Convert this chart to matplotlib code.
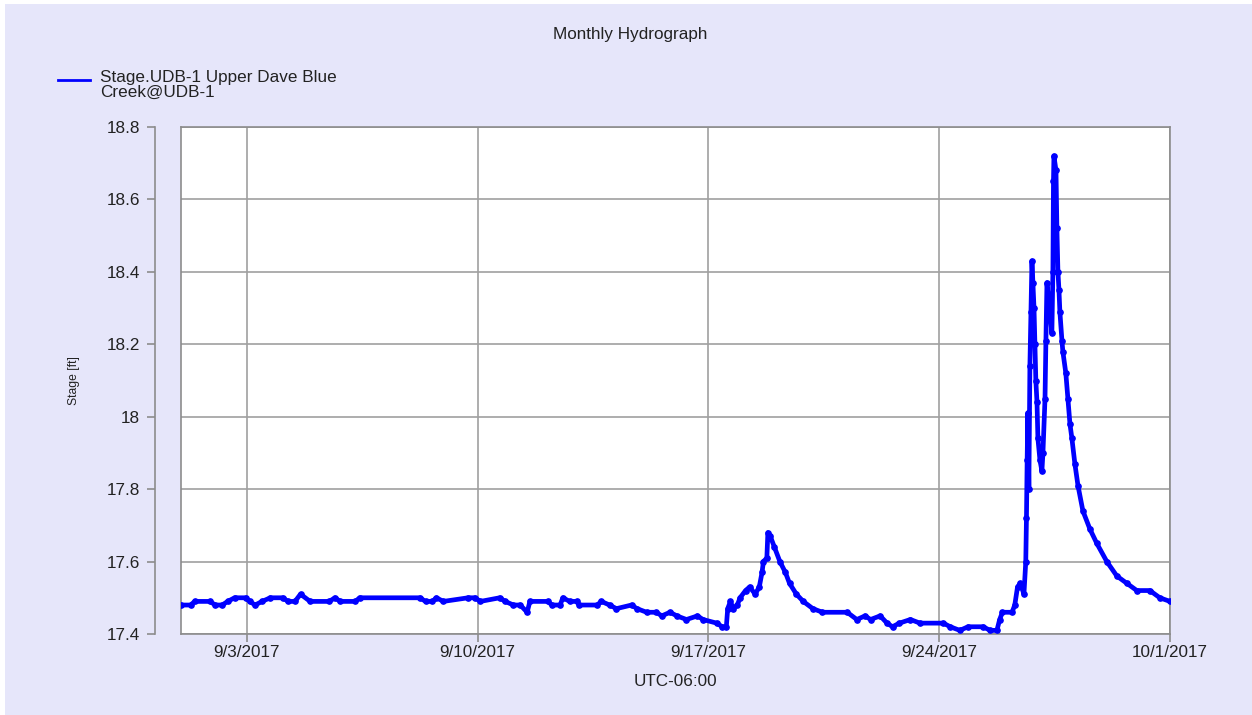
import pandas as pd
import matplotlib.pyplot as plt
from matplotlib.lines import Line2D
from matplotlib.patches import Rectangle

plt.rcParams['font.family'] = ['Liberation Sans', 'DejaVu Sans']

# Stage readings (ft)
times = [
    "2017-09-01 00:00", "2017-09-01 07:00", "2017-09-01 10:00", "2017-09-01 21:00",
    "2017-09-02 01:00", "2017-09-02 06:00", "2017-09-02 10:00", "2017-09-02 15:00",
    "2017-09-02 23:00", "2017-09-03 02:00", "2017-09-03 06:00", "2017-09-03 11:00",
    "2017-09-03 17:00", "2017-09-04 02:00", "2017-09-04 06:00", "2017-09-04 11:00",
    "2017-09-04 15:00", "2017-09-04 22:00", "2017-09-05 12:00", "2017-09-05 16:00",
    "2017-09-05 20:00", "2017-09-06 07:00", "2017-09-06 10:00", "2017-09-08 06:00",
    "2017-09-08 10:00", "2017-09-08 15:00", "2017-09-08 18:00", "2017-09-08 23:00",
    "2017-09-09 17:00", "2017-09-09 22:00", "2017-09-10 02:00", "2017-09-10 16:00",
    "2017-09-10 20:00", "2017-09-11 02:00", "2017-09-11 07:00", "2017-09-11 12:00",
    "2017-09-11 14:00", "2017-09-12 03:00", "2017-09-12 06:00", "2017-09-12 12:00",
    "2017-09-12 14:00", "2017-09-12 19:00", "2017-09-13 00:00", "2017-09-13 02:00",
    "2017-09-13 15:00", "2017-09-13 18:00", "2017-09-14 00:00", "2017-09-14 05:00",
    "2017-09-14 16:00", "2017-09-14 20:00", "2017-09-15 03:00", "2017-09-15 10:00",
    "2017-09-15 14:00", "2017-09-15 20:00", "2017-09-16 01:00", "2017-09-16 08:00",
    "2017-09-16 16:00", "2017-09-16 20:00", "2017-09-17 06:00", "2017-09-17 10:00",
    "2017-09-17 13:00", "2017-09-17 14:00", "2017-09-17 16:00", "2017-09-17 18:00",
    "2017-09-17 21:00", "2017-09-17 23:00", "2017-09-18 03:00", "2017-09-18 06:00",
    "2017-09-18 10:00", "2017-09-18 13:00", "2017-09-18 15:00", "2017-09-18 16:00",
    "2017-09-18 18:30", "2017-09-18 19:15", "2017-09-18 21:00", "2017-09-19 00:00",
    "2017-09-19 04:00", "2017-09-19 08:00", "2017-09-19 11:00", "2017-09-19 16:00",
    "2017-09-19 21:00", "2017-09-20 04:00", "2017-09-20 11:00", "2017-09-21 05:00",
    "2017-09-21 12:00", "2017-09-21 18:00", "2017-09-21 22:00", "2017-09-22 05:00",
    "2017-09-22 10:00", "2017-09-22 14:00", "2017-09-22 19:00", "2017-09-23 03:00",
    "2017-09-23 10:00", "2017-09-24 03:00", "2017-09-24 08:00", "2017-09-24 15:00",
    "2017-09-24 21:00", "2017-09-25 08:00", "2017-09-25 13:00", "2017-09-25 18:00",
    "2017-09-25 20:00", "2017-09-25 22:00", "2017-09-26 05:00", "2017-09-26 07:00",
    "2017-09-26 09:00", "2017-09-26 11:00", "2017-09-26 13:40", "2017-09-26 15:00",
    "2017-09-26 15:30", "2017-09-26 16:00", "2017-09-26 16:30", "2017-09-26 17:15",
    "2017-09-26 18:00", "2017-09-26 18:45", "2017-09-26 19:30", "2017-09-26 20:10",
    "2017-09-26 21:00", "2017-09-26 21:40", "2017-09-26 22:20", "2017-09-26 23:10",
    "2017-09-26 23:50", "2017-09-27 01:20", "2017-09-27 02:45", "2017-09-27 03:30",
    "2017-09-27 05:00", "2017-09-27 05:40", "2017-09-27 06:25", "2017-09-27 07:10",
    "2017-09-27 08:35", "2017-09-27 10:00", "2017-09-27 10:45", "2017-09-27 11:10",
    "2017-09-27 11:30", "2017-09-27 13:00", "2017-09-27 13:40", "2017-09-27 14:25",
    "2017-09-27 15:10", "2017-09-27 15:50", "2017-09-27 17:20", "2017-09-27 18:00",
    "2017-09-27 20:10", "2017-09-27 21:40", "2017-09-27 23:10", "2017-09-28 00:35",
    "2017-09-28 02:45", "2017-09-28 05:00", "2017-09-28 08:35", "2017-09-28 13:40",
    "2017-09-28 18:45", "2017-09-29 02:00", "2017-09-29 09:20", "2017-09-29 16:35",
    "2017-09-29 23:50", "2017-09-30 09:20", "2017-09-30 16:35", "2017-10-01 00:00",
]
stage = [
    17.48, 17.48, 17.49, 17.49,
    17.48, 17.48, 17.49, 17.50,
    17.50, 17.49, 17.48, 17.49,
    17.50, 17.50, 17.49, 17.49,
    17.51, 17.49, 17.49, 17.50,
    17.49, 17.49, 17.50, 17.50,
    17.49, 17.49, 17.50, 17.49,
    17.50, 17.50, 17.49, 17.50,
    17.49, 17.48, 17.48, 17.46,
    17.49, 17.49, 17.48, 17.48,
    17.50, 17.49, 17.49, 17.48,
    17.48, 17.49, 17.48, 17.47,
    17.48, 17.47, 17.46, 17.46,
    17.45, 17.46, 17.45, 17.44,
    17.45, 17.44, 17.43, 17.42,
    17.42, 17.47, 17.49, 17.47,
    17.48, 17.50, 17.52, 17.53,
    17.51, 17.53, 17.57, 17.60,
    17.61, 17.68, 17.67, 17.64,
    17.60, 17.57, 17.54, 17.51,
    17.49, 17.47, 17.46, 17.46,
    17.44, 17.45, 17.44, 17.45,
    17.43, 17.42, 17.43, 17.44,
    17.43, 17.43, 17.42, 17.41,
    17.42, 17.42, 17.41, 17.41,
    17.44, 17.46, 17.46, 17.48,
    17.53, 17.54, 17.51, 17.60,
    17.72, 17.88, 18.01, 17.80,
    18.14, 18.29, 18.43, 18.37,
    18.30, 18.20, 18.10, 18.04,
    17.94, 17.88, 17.85, 17.90,
    18.05, 18.21, 18.37, 18.34,
    18.29, 18.23, 18.40, 18.65,
    18.72, 18.68, 18.52, 18.40,
    18.35, 18.29, 18.21, 18.18,
    18.12, 18.05, 17.98, 17.94,
    17.87, 17.81, 17.74, 17.69,
    17.65, 17.60, 17.56, 17.54,
    17.52, 17.52, 17.50, 17.49,
]
tick_dates = ["2017-09-03", "2017-09-10", "2017-09-17", "2017-09-24", "2017-10-01"]
y_ticks = [17.4, 17.6, 17.8, 18.0, 18.2, 18.4, 18.6, 18.8]
y_labels = ["17.4", "17.6", "17.8", "18", "18.2", "18.4", "18.6", "18.8"]

t = pd.to_datetime(times)
bg = '#e6e6fa'
gray = '#8c8c8c'
txt = '#222222'

fig = plt.figure(figsize=(12.52, 7.15), dpi=100, facecolor='white')
fig.add_artist(Rectangle((5 / 1252, 0), 1, 1 - 4 / 715, transform=fig.transFigure,
                         facecolor=bg, edgecolor='none', zorder=-10))

ax = fig.add_axes([181 / 1252, 1 - 634 / 715, (1170 - 181) / 1252, (634 - 127) / 715])
ax.set_facecolor('white')

ax.plot(t, stage, color='#0000ff', lw=3.4, marker='o', ms=3.8,
        solid_joinstyle='round', solid_capstyle='round', zorder=3)

ax.set_xlim(pd.Timestamp("2017-09-01"), pd.Timestamp("2017-10-01"))
ax.set_ylim(17.4, 18.8)

ticks = pd.to_datetime(tick_dates)
ax.set_xticks(ticks)
ax.set_xticklabels([f"{d.month}/{d.day}/{d.year}" for d in ticks])
ax.set_yticks(y_ticks)
ax.set_yticklabels(y_labels)

ax.grid(True, color='#a0a0a0', lw=1.2, zorder=1)
ax.set_axisbelow(True)

for s in ax.spines.values():
    s.set_color(gray)
    s.set_linewidth(1.2)
# y axis line sits apart from the plot box (26 px = 18.7 pt)
ax.spines['left'].set_position(('outward', 18.7))
ax.axvline(pd.Timestamp("2017-09-01"), color=gray, lw=1.2, clip_on=False, zorder=2)

ax.tick_params(axis='both', colors=gray, labelcolor=txt, labelsize=12.3,
               length=5.8, width=1.2, direction='out', pad=5)
ax.tick_params(axis='x', pad=2)

ax.set_ylabel("Stage [ft]", fontsize=8.7, color=txt)
ax.yaxis.set_label_coords(-0.102, 0.5)
ax.set_xlabel("UTC-06:00", fontsize=12.3, color=txt, labelpad=10)

fig.text(0.5035, 1 - 34 / 715, "Monthly Hydrograph", ha='center', va='center',
         fontsize=12.3, color=txt)

# legend drawn by hand to match the two-line label
fig.add_artist(Line2D([58 / 1252, 90 / 1252], [1 - 80 / 715, 1 - 80 / 715],
                      color='#0000ff', lw=2, transform=fig.transFigure))
fig.text(100 / 1252, 1 - 85 / 715, "Stage.UDB-1 Upper Dave Blue\nCreek@UDB-1",
         ha='left', va='center', fontsize=12.3, color=txt, linespacing=0.92)

fig.savefig("out.png", dpi=100, facecolor=fig.get_facecolor())
